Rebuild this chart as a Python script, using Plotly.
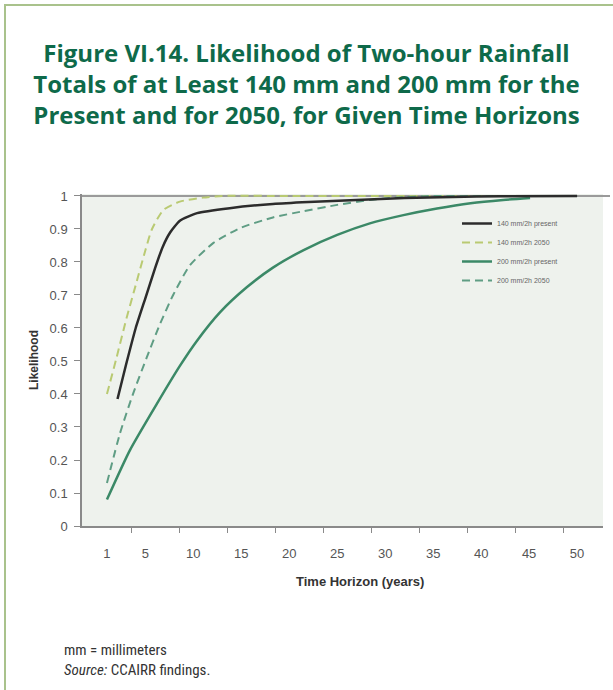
import plotly.graph_objects as go

# ---------------- data ----------------
tick_years = [1, 5, 10, 15, 20, 25, 30, 35, 40, 45, 50]

x_140_present = [2.1, 3.0, 4.0, 5.0, 6.0, 6.8, 7.6, 8.6, 10.4, 13.8, 18.3, 22, 27, 32, 37, 42, 50]
y_140_present = [0.385, 0.49, 0.60, 0.69, 0.78, 0.845, 0.89, 0.925, 0.948, 0.963, 0.976, 0.982, 0.988, 0.994, 0.997, 0.999, 1.0]

x_140_2050 = [1.0, 2.0, 3.0, 4.0, 5.0, 5.7, 6.9, 8.6, 11, 13, 20, 30, 40, 50]
y_140_2050 = [0.40, 0.51, 0.625, 0.73, 0.835, 0.90, 0.958, 0.983, 0.995, 1.0, 1.0, 1.0, 1.0, 1.0]

x_200_present = [1.0, 3.4, 6.2, 8.6, 10.35, 12.8, 15.6, 18.3, 21.5, 25, 28.4, 31.9, 35.4, 38.9, 42.3, 45.1]
y_200_present = [0.08, 0.23, 0.37, 0.485, 0.56, 0.648, 0.724, 0.783, 0.836, 0.882, 0.917, 0.942, 0.962, 0.978, 0.988, 0.994]

x_200_2050 = [1.0, 2.36, 3.74, 5.14, 6.5, 7.9, 9.65, 12.1, 14.9, 18.3, 21.5, 25, 28.4, 31, 35, 40, 50]
y_200_2050 = [0.13, 0.281, 0.402, 0.51, 0.61, 0.70, 0.79, 0.858, 0.903, 0.935, 0.954, 0.973, 0.988, 0.995, 1.0, 1.0, 1.0]

names = ["140 mm/2h present", "140 mm/2h 2050", "200 mm/2h present", "200 mm/2h 2050"]

# ---------------- layout geometry ----------------
W, H = 613, 690
ML, MR, MT, MB = 82, 10, 194, 164
PW, PH = W - ML - MR, H - MT - MB


def px_x(px):
    return (px - ML) / PW


def px_y(py):
    return (H - MB - py) / PH


fig = go.Figure()

# drawing order: black on top; legend order via legendrank
fig.add_trace(go.Scatter(x=x_140_2050, y=y_140_2050, name=names[1], mode="lines",
                         line=dict(color="#b9ca72", width=2, dash="8px,5px", shape="spline", smoothing=0.6),
                         legendrank=2))
fig.add_trace(go.Scatter(x=x_200_2050, y=y_200_2050, name=names[3], mode="lines",
                         line=dict(color="#5f9d84", width=2, dash="8px,5px", shape="spline", smoothing=0.6),
                         legendrank=4))
fig.add_trace(go.Scatter(x=x_200_present, y=y_200_present, name=names[2], mode="lines",
                         line=dict(color="#3b8967", width=2.5, shape="spline", smoothing=0.6),
                         legendrank=3))
fig.add_trace(go.Scatter(x=x_140_present, y=y_140_present, name=names[0], mode="lines",
                         line=dict(color="#2c2c2c", width=2.5, shape="spline", smoothing=0.5),
                         legendrank=1))

TITLE = ("Figure VI.14. Likelihood of Two-hour Rainfall<br>"
         "Totals of at Least 140 mm and 200 mm for the<br>"
         "Present and for 2050, for Given Time Horizons")

TFONT = "Open Sans, Lato, sans-serif"
COND = "Liberation Sans Narrow, Arial Narrow, Roboto Condensed, DejaVu Sans Condensed, sans-serif"
ARIAL = "Liberation Sans, Arial, sans-serif"

fig.update_layout(
    width=W, height=H,
    margin=dict(l=ML, r=MR, t=MT, b=MB, pad=0, autoexpand=False),
    paper_bgcolor="white",
    plot_bgcolor="#eef2ed",
    title=dict(text="<b>" + TITLE + "</b>", x=0.5, xref="container", xanchor="center",
               y=1 - 62 / H, yref="container", yanchor="top",
               font=dict(family=TFONT, size=24, color="#0e6a4a")),
    showlegend=True,
    legend=dict(x=px_x(457), y=px_y(209), xanchor="left", yanchor="top",
                bgcolor="rgba(0,0,0,0)", font=dict(family=ARIAL, size=7, color="#666666"),
                tracegroupgap=0),
    xaxis=dict(range=[-1.6, 52.7], tickmode="array", tickvals=tick_years,
               ticktext=[str(v) for v in tick_years], automargin=False,
               ticks="outside", ticklen=15, tickcolor="rgba(0,0,0,0)",
               tickfont=dict(family=ARIAL, size=13, color="#555555"),
               showline=True, linecolor="#8a8a8a", linewidth=1.5,
               showgrid=False, zeroline=False,
               minor=dict(tickmode="array", tickvals=[3.6 + 5 * k for k in range(10)],
                          ticks="outside", ticklen=5, tickcolor="#8a8a8a", tickwidth=1, showgrid=False)),
    yaxis=dict(range=[0, 1.006], tick0=0, dtick=0.1, ticks="outside", ticklen=6, automargin=False,
               tickcolor="#8a8a8a", tickfont=dict(family=ARIAL, size=13, color="#555555"),
               showline=True, linecolor="#8a8a8a", linewidth=1.5,
               showgrid=False, zeroline=False, ticklabelstandoff=4,
               title=dict(text="<b>Likelihood</b>", standoff=8,
                          font=dict(family=ARIAL, size=12, color="#333333"))),
)

# x-axis title
fig.add_annotation(text="<b>Time Horizon (years)</b>", xref="paper", yref="paper",
                   x=px_x(360), y=px_y(581), xanchor="center", yanchor="middle", showarrow=False,
                   font=dict(family=ARIAL, size=13, color="#333333"))

# footnote
fig.add_annotation(text="mm = millimeters<br><i>Source:</i> CCAIRR findings.",
                   xref="paper", yref="paper", x=px_x(62), y=px_y(660), xanchor="left",
                   yanchor="middle", align="left", showarrow=False,
                   font=dict(family=COND, size=15, color="#333333"))

# top reference line at likelihood 1
fig.add_shape(type="line", xref="paper", yref="y", x0=0, x1=px_x(610), y0=1, y1=1,
              line=dict(color="#9a9a9a", width=2), layer="below")

# green frame (left and top)
fig.add_shape(type="line", xref="paper", yref="paper", x0=px_x(5), x1=px_x(5),
              y0=px_y(4), y1=px_y(700), line=dict(color="#a9c28c", width=2))
fig.add_shape(type="line", xref="paper", yref="paper", x0=px_x(4), x1=px_x(620),
              y0=px_y(5), y1=px_y(5), line=dict(color="#a9c28c", width=2))

fig.write_html("out.html", config={"displayModeBar": False},
               post_script="document.body.style.margin='0';document.body.style.overflow='hidden';")
